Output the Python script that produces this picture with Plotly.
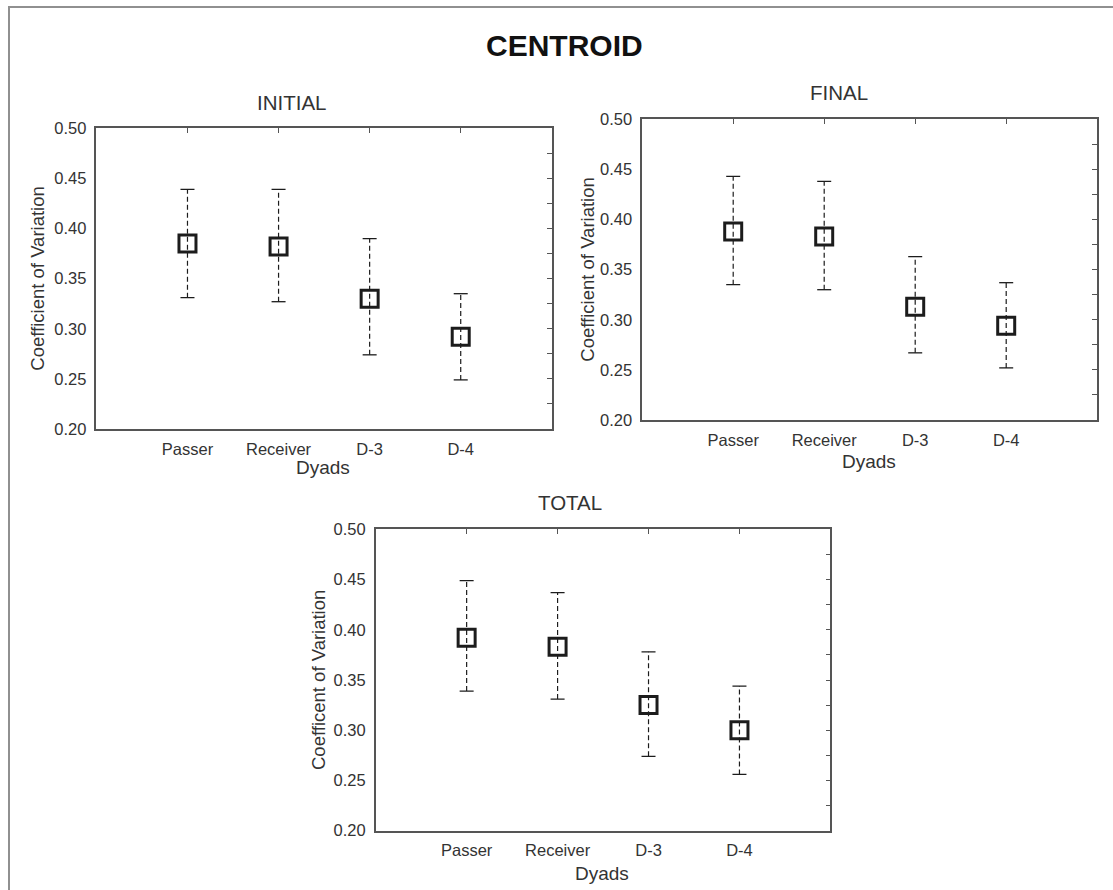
import plotly.graph_objects as go

# ---------------- data ----------------
categories = ["Passer", "Receiver", "D-3", "D-4"]

initial_mean = [0.385, 0.382, 0.330, 0.292]
initial_upper = [0.439, 0.439, 0.390, 0.335]
initial_lower = [0.331, 0.327, 0.274, 0.249]

final_mean = [0.388, 0.383, 0.313, 0.294]
final_upper = [0.443, 0.438, 0.363, 0.337]
final_lower = [0.335, 0.330, 0.267, 0.252]

total_mean = [0.392, 0.383, 0.325, 0.300]
total_upper = [0.449, 0.437, 0.378, 0.344]
total_lower = [0.339, 0.331, 0.274, 0.256]

y_ticks = [0.20, 0.25, 0.30, 0.35, 0.40, 0.45, 0.50]
panel_titles = ["INITIAL", "FINAL", "TOTAL"]
y_titles = ["Coefficient of Variation", "Coefficient of Variation", "Coefficent of Variation"]
x_title = "Dyads"

# ---------------- layout helpers ----------------
W, H = 1113, 890
def fx(px):
    return px / W
def fy(py):
    return 1 - py / H

FONT = "Liberation Sans, Arial, sans-serif"
INK = "#1c1c1c"
TXT = "#333333"
AXC = "#555555"

# panel boxes in pixels: (left, right, top, bottom)
boxes = [
    (96.4, 551.8, 128.3, 429.0),
    (642.2, 1097.2, 119.3, 420.0),
    (375.7, 830.4, 529.3, 830.7),
]
title_pos = [(292, 102), (839, 92), (570, 502)]
xtitle_pos = [(323, 467), (869, 461), (602, 873)]
ytitle_x = [38, 588, 318]

series = [
    (initial_mean, initial_upper, initial_lower),
    (final_mean, final_upper, final_lower),
    (total_mean, total_upper, total_lower),
]

fig = go.Figure()
layout = {}
annotations = []

for i, ((mean, up, lo), (l, r, t, b)) in enumerate(zip(series, boxes)):
    n = i + 1
    xa = "x" if n == 1 else f"x{n}"
    ya = "y" if n == 1 else f"y{n}"
    xo = f"x{n + 3}"
    yo = f"y{n + 3}"

    # dashed whiskers
    wx, wy = [], []
    for c, u, d in zip(categories, up, lo):
        wx += [c, c, None]
        wy += [d, u, None]
    fig.add_trace(go.Scatter(x=wx, y=wy, mode="lines", xaxis=xa, yaxis=ya,
                             line=dict(color=INK, width=1.2, dash="5px,3px"),
                             showlegend=False, hoverinfo="skip"))
    # caps
    fig.add_trace(go.Scatter(x=categories + categories, y=up + lo, mode="markers",
                             xaxis=xa, yaxis=ya,
                             marker=dict(symbol="line-ew", size=10,
                                         line=dict(color=INK, width=1.3)),
                             showlegend=False, hoverinfo="skip"))
    # means
    fig.add_trace(go.Scatter(x=categories, y=mean, mode="markers", xaxis=xa, yaxis=ya,
                             marker=dict(symbol="square-open", size=17, color=INK,
                                         line=dict(color=INK, width=3)),
                             showlegend=False))
    # empty trace for the overlay (top/right) axes
    fig.add_trace(go.Scatter(x=[], y=[], xaxis=xo, yaxis=yo, showlegend=False,
                             hoverinfo="skip"))

    xdom = [fx(l), fx(r)]
    ydom = [fy(b), fy(t)]
    kx = "xaxis" if n == 1 else f"xaxis{n}"
    ky = "yaxis" if n == 1 else f"yaxis{n}"
    layout[kx] = dict(domain=xdom, anchor=ya, type="category", range=[-1, 4],
                      categoryorder="array", categoryarray=categories,
                      showline=True, linecolor=AXC, linewidth=1.5, ticks="",
                      showgrid=False, zeroline=False, ticklabelstandoff=4,
                      automargin=False,
                      tickfont=dict(family=FONT, size=16.5, color=TXT))
    layout[ky] = dict(domain=ydom, anchor=xa, range=[0.2, 0.5], tickvals=y_ticks,
                      tickformat=".2f", showline=True, linecolor=AXC, linewidth=1.5,
                      ticks="", showgrid=False, zeroline=False, ticklabelstandoff=5,
                      automargin=False,
                      tickfont=dict(family=FONT, size=16.5, color=TXT))
    layout[f"xaxis{n + 3}"] = dict(overlaying=xa, anchor=ya, side="top",
                                   range=[-1, 4], tickvals=[0, 1, 2, 3],
                                   showticklabels=False, ticks="inside", ticklen=5,
                                   tickcolor=AXC, tickwidth=1.3, automargin=False,
                                   showline=True, linecolor=AXC, linewidth=1.5,
                                   showgrid=False, zeroline=False)
    layout[f"yaxis{n + 3}"] = dict(overlaying=ya, anchor=xa, side="right",
                                   range=[0.2, 0.5], dtick=0.025, tick0=0.2,
                                   showticklabels=False, ticks="inside", ticklen=5,
                                   tickcolor=AXC, tickwidth=1.3, automargin=False,
                                   showline=True, linecolor=AXC, linewidth=1.5,
                                   showgrid=False, zeroline=False)

    tx, ty = title_pos[i]
    annotations.append(dict(text=panel_titles[i], x=fx(tx), y=fy(ty), xref="paper",
                            yref="paper", showarrow=False, xanchor="center",
                            yanchor="middle",
                            font=dict(family=FONT, size=20.5, color=TXT)))
    dx, dy = xtitle_pos[i]
    annotations.append(dict(text=x_title, x=fx(dx), y=fy(dy), xref="paper",
                            yref="paper", showarrow=False, xanchor="center",
                            yanchor="middle",
                            font=dict(family=FONT, size=19, color=TXT)))
    annotations.append(dict(text=y_titles[i], x=fx(ytitle_x[i]), y=fy((t + b) / 2),
                            xref="paper", yref="paper", showarrow=False,
                            xanchor="center", yanchor="middle", textangle=-90,
                            font=dict(family=FONT, size=18.5, color=TXT)))

annotations.append(dict(text="<b>CENTROID</b>", x=fx(564), y=fy(45), xref="paper",
                        yref="paper", showarrow=False, xanchor="center",
                        yanchor="middle", font=dict(family=FONT, size=30, color="#111111")))

fig.update_layout(**layout)
fig.update_layout(
    width=W, height=H, margin=dict(l=0, r=0, t=0, b=0, pad=0),
    paper_bgcolor="white", plot_bgcolor="white",
    showlegend=False, annotations=annotations,
    shapes=[dict(type="rect", xref="paper", yref="paper",
                 x0=fx(9), x1=1.2, y0=-0.2, y1=fy(7),
                 line=dict(color="#909090", width=2), fillcolor="rgba(0,0,0,0)")],
)

fig.write_html("out.html")
